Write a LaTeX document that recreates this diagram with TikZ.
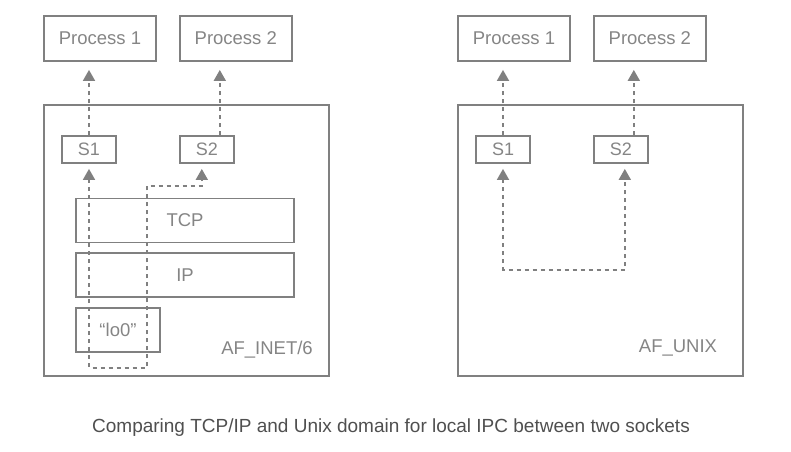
\documentclass[tikz,border=0pt]{standalone}
\usepackage{fontspec}
\setmainfont{Liberation Sans}
\usetikzlibrary{arrows.meta,positioning,calc}
\definecolor{LineGrey}{HTML}{808080}
\definecolor{TextGrey}{HTML}{858585}
\definecolor{CaptionGrey}{HTML}{4F4F4F}

\begin{document}
\begin{tikzpicture}[x=1pt, y=-1pt,
    >={Triangle[length=11pt, width=12pt]},
    box/.style={draw=LineGrey, line width=1.8pt, text=TextGrey, inner sep=0pt, font=\fontsize{18.5}{20}\selectfont},
    procbox/.style={box, minimum width=112pt, minimum height=45pt},
    sockbox/.style={box, minimum width=54pt, minimum height=27pt, font=\fontsize{18}{19}\selectfont},
    layerbox/.style={box, minimum width=218pt, minimum height=44pt},
    frame/.style={box, minimum width=285pt, minimum height=271pt},
    tag/.style={text=TextGrey, font=\fontsize{18.5}{20}\selectfont},
    flow/.style={draw=LineGrey, line width=1.8pt, dash pattern=on 4pt off 4pt},
  ]
    \useasboundingbox (0,0) rectangle (791,451);

    % AF_INET/6 side
    \node[frame] (inet) at (186.5,240.5) {};
    \node[procbox] (p1) at (100,38.5) {Process 1};
    \node[procbox, right=22pt of p1] (p2) {Process 2};
    \node[sockbox] (s1) at (89,149.5) {S1};
    \node[sockbox, right=62pt of s1] (s2) {S2};
    \node[layerbox] (tcp) at (185,220.5) {TCP};
    \node[layerbox, below=9pt of tcp] (ip) {IP};
    \node[box, minimum width=84pt, minimum height=44pt, below=9pt of ip.south west, anchor=north west] (lo) {“lo0”};
    \node[tag] (inettag) at (267,350) {AF\_INET/6};

    \coordinate (s2top) at ($(s2.north)+(13,0)$);
    \draw[flow, ->, shorten >=8pt] (s1.north) -- (s1.north |- p1.south);
    \draw[flow, ->, shorten >=8pt] (s2top) -- (s2top |- p2.south);
    \draw[flow, <->, shorten <=5pt, shorten >=5pt] (s1.south) -- ++(0,204) -| ++(58,-182) -| ($(s2.south)+(-5,0)$);

    % AF_UNIX side
    \node[frame] (unix) at (600.5,240.5) {};
    \node[procbox] (q1) at (514,38.5) {Process 1};
    \node[procbox, right=22pt of q1] (q2) {Process 2};
    \node[sockbox] (t1) at (503,149.5) {S1};
    \node[sockbox, right=62pt of t1] (t2) {S2};
    \node[tag] (unixtag) at (678,347.5) {AF\_UNIX};

    \coordinate (t2top) at ($(t2.north)+(13,0)$);
    \draw[flow, ->, shorten >=8pt] (t1.north) -- (t1.north |- q1.south);
    \draw[flow, ->, shorten >=8pt] (t2top) -- (t2top |- q2.south);
    \draw[flow, <->, shorten <=5pt, shorten >=5pt] (t1.south) -- ++(0,106) -| ($(t2.south)+(4,0)$);

    \node[text=CaptionGrey, font=\fontsize{19}{21}\selectfont] (caption) at (391,428) {Comparing TCP/IP and Unix domain for local IPC between two sockets};
\end{tikzpicture}
\end{document}
